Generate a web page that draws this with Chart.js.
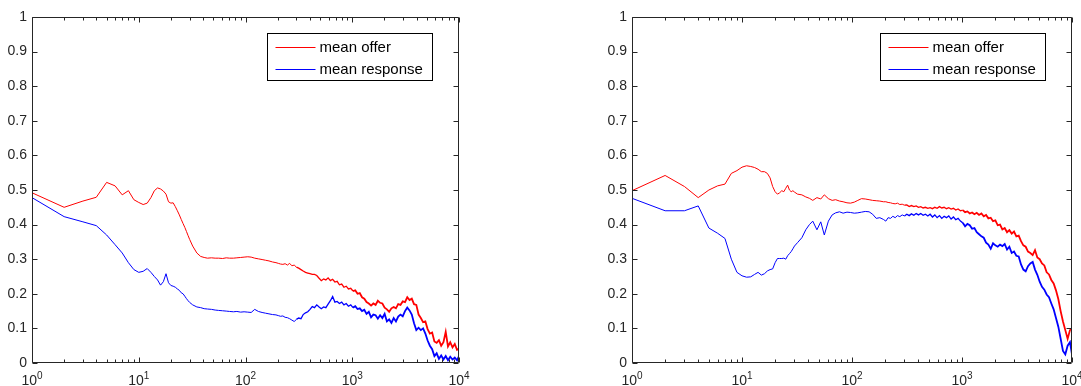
<!DOCTYPE html>
<html>
<head>
<meta charset="utf-8">
<script src="https://cdn.jsdelivr.net/npm/chart.js@4.4.1/dist/chart.umd.min.js"></script>
<style>
html,body{margin:0;padding:0;background:#fff;width:1081px;height:386px;overflow:hidden}
.panel{position:absolute;top:0;height:386px}
#p1{left:0;width:540px}
#p2{left:540px;width:541px}
canvas{display:block}
</style>
</head>
<body>
<div class="panel" id="p1"><canvas id="c1" width="540" height="386"></canvas></div>
<div class="panel" id="p2"><canvas id="c2" width="541" height="386"></canvas></div>
<script>
// ---- data ----
const seriesNames = ['mean offer', 'mean response'];

const generations = [
  1,2,3,4,5,6,7,8,9,10,11,12,13,14,15,16,17,18,19,20,21,22,23,24,25,26,27,28,29,30,
  32,35,38,41,44,48,52,56,61,66,71,77,83,90,97,105,113,122,132,143,154,166,179,193,
  203,213,224,235,247,259,272,286,300,315,
  331,347,365,383,402,422,443,465,489,513,
  539,566,594,624,655,688,722,758,796,836,
  878,921,968,1016,1067,1120,1176,1235,1297,1361,
  1429,1501,1576,1655,1737,1824,1915,2011,2112,2217,
  2328,2444,2567,2695,2830,2971,3120,3276,3440,3612,
  3792,3982,4181,4390,4610,4840,5082,5336,5603,5883,
  6178,6486,6811,7151,7509,7884,8279,8693,9127,9584,
  10000
];

const leftOffer = [
  .492,.450,.468,.479,.522,.512,.486,.498,.472,.464,.458,.462,.478,.498,.506,.503,.497,.488,.466,.462,
  .463,.452,.440,.428,.415,.403,.392,.380,.368,.357,
  .338,.318,.308,.305,.303,.304,.303,.303,.302,.304,.303,.303,.304,.305,.306,.307,.306,.303,.301,.299,.297,.295,.292,.290,
  .288,.286,.285,.287,.283,.288,.281,.283,.277,.274,
  .270,.266,.262,.260,.258,.256,.256,.253,.245,.238,
  .243,.240,.246,.238,.242,.234,.236,.226,.228,.219,
  .222,.214,.216,.208,.210,.200,.202,.190,.186,.176,
  .172,.166,.172,.168,.180,.174,.172,.160,.155,.148,
  .158,.162,.158,.170,.168,.178,.176,.190,.182,.186,
  .170,.168,.140,.130,.118,.120,.098,.085,.088,.062,
  .058,.066,.050,.060,.090,.048,.060,.045,.055,.038,
  .042
];

const leftResponse = [
  .478,.423,.408,.397,.370,.342,.318,.290,.270,.262,.265,.273,.262,.250,.240,.225,.235,.258,.232,.224,
  .222,.219,.214,.210,.203,.200,.193,.186,.180,.175,
  .168,.162,.160,.157,.156,.155,.153,.152,.151,.150,.149,.148,.149,.147,.148,.147,.146,.155,.149,.146,.144,.142,.140,.139,
  .137,.135,.136,.132,.131,.128,.124,.120,.126,.130,
  .128,.140,.145,.148,.155,.163,.160,.168,.162,.157,
  .162,.160,.170,.180,.192,.176,.178,.172,.176,.168,
  .172,.164,.168,.160,.164,.156,.158,.150,.154,.142,
  .148,.132,.140,.138,.128,.138,.130,.142,.120,.126,
  .116,.130,.120,.134,.140,.135,.150,.160,.152,.140,
  .115,.095,.102,.095,.100,.085,.065,.050,.040,.020,
  .028,.012,.022,.010,.020,.008,.018,.010,.016,.008,
  .020
];

const rightOffer = [
  .498,.542,.510,.478,.500,.512,.517,.548,.556,.566,.570,.568,.565,.560,.553,.553,.548,.535,.510,.495,
  .488,.492,.498,.495,.505,.514,.500,.495,.498,.494,
  .488,.486,.480,.476,.470,.478,.474,.486,.475,.470,.472,.468,.466,.463,.462,.465,.470,.475,.474,.472,.470,.469,.468,.466,
  .466,.464,.463,.461,.460,.462,.458,.459,.456,.457,
  .452,.455,.452,.454,.450,.452,.448,.450,.447,.449,
  .446,.450,.447,.452,.448,.450,.446,.449,.445,.447,
  .442,.445,.440,.442,.436,.438,.432,.435,.430,.434,
  .428,.432,.424,.428,.418,.420,.410,.412,.398,.400,
  .386,.390,.378,.384,.374,.380,.366,.368,.352,.340,
  .336,.322,.318,.312,.326,.305,.300,.288,.282,.262,
  .256,.240,.230,.210,.185,.150,.120,.095,.070,.095,
  .100
];

const rightResponse = [
  .476,.440,.440,.454,.390,.375,.360,.300,.262,.252,.248,.249,.256,.262,.254,.258,.266,.270,.272,.290,
  .302,.302,.302,.303,.300,.310,.316,.322,.330,.338,
  .348,.362,.385,.400,.410,.385,.408,.370,.410,.428,.434,.437,.433,.436,.435,.433,.434,.436,.438,.437,.430,.418,.420,.415,
  .410,.420,.418,.424,.420,.426,.423,.428,.425,.430,
  .426,.431,.427,.432,.428,.432,.427,.430,.425,.430,
  .422,.428,.420,.426,.418,.424,.420,.425,.416,.422,
  .414,.418,.410,.405,.395,.402,.398,.388,.390,.378,
  .372,.366,.362,.348,.342,.330,.346,.340,.336,.342,
  .338,.344,.328,.336,.318,.322,.310,.308,.285,.270,
  .265,.280,.288,.292,.270,.255,.235,.220,.212,.198,
  .190,.172,.155,.130,.105,.070,.035,.025,.050,.060,
  .025
];

const xTickValues = [1, 10, 100, 1000, 10000];
const xTickBase = '10';
const xTickExponents = ['0', '1', '2', '3', '4'];
const yTickValues = [0, 0.1, 0.2, 0.3, 0.4, 0.5, 0.6, 0.7, 0.8, 0.9, 1];
const yTickLabels = ['0', '0.1', '0.2', '0.3', '0.4', '0.5', '0.6', '0.7', '0.8', '0.9', '1'];

// ---- style ----
const seriesColors = ['#ff0000', '#0000ff'];
const AXIS = '#262626';
const TEXT = '#262626';
const FONT = '"Liberation Sans", Arial, Helvetica, sans-serif';
const NOISY_FROM = 300, DENSE_FROM = 1000;

const axesBoxPlugin = {
  id: 'axesBox',
  afterDatasetsDraw(chart) {
    const {ctx, chartArea: a} = chart;
    const xs = chart.scales.x, ys = chart.scales.y;
    const L = Math.round(a.left) + 0.5, R = Math.round(a.right) - 0.5;
    const T = Math.round(a.top) + 0.5, B = Math.round(a.bottom) - 0.5;
    ctx.save();
    ctx.strokeStyle = AXIS;
    ctx.lineWidth = 1;
    ctx.beginPath();
    ctx.rect(L, T, R - L, B - T);
    const vtick = (v, len) => {
      const p = Math.round(xs.getPixelForValue(v)) + 0.5;
      ctx.moveTo(p, B); ctx.lineTo(p, B - len);
      ctx.moveTo(p, T); ctx.lineTo(p, T + len);
    };
    xTickValues.forEach(v => vtick(v, 5));
    for (let d = 1; d < 10000; d *= 10) {
      for (let k = 2; k <= 9; k++) vtick(k * d, 3);
    }
    yTickValues.forEach(v => {
      const p = Math.round(ys.getPixelForValue(v)) + 0.5;
      ctx.moveTo(L, p); ctx.lineTo(L + 5, p);
      ctx.moveTo(R, p); ctx.lineTo(R - 5, p);
    });
    ctx.stroke();

    // x tick labels: "10" with raised exponent
    ctx.fillStyle = TEXT;
    ctx.textBaseline = 'alphabetic';
    ctx.textAlign = 'left';
    xTickValues.forEach((v, i) => {
      const p = xs.getPixelForValue(v);
      ctx.font = '14px ' + FONT;
      const bw = ctx.measureText(xTickBase).width;
      ctx.font = '10px ' + FONT;
      const ew = ctx.measureText(xTickExponents[i]).width;
      const start = p - (bw + ew) / 2;
      ctx.font = '14px ' + FONT;
      ctx.fillText(xTickBase, start, 385);
      ctx.font = '10px ' + FONT;
      ctx.fillText(xTickExponents[i], start + bw, 379);
    });
    ctx.restore();
  }
};

const boxLegendPlugin = {
  id: 'boxLegend',
  afterDraw(chart) {
    const {ctx, chartArea: a} = chart;
    const w = 165, h = 47;
    const left = Math.round(a.right - 27 - w) + 0.5;
    const top = Math.round(a.top + 16) + 0.5;
    ctx.save();
    ctx.fillStyle = '#ffffff';
    ctx.fillRect(left, top, w, h);
    ctx.strokeStyle = '#000000';
    ctx.lineWidth = 1;
    ctx.strokeRect(left, top, w, h);
    ctx.font = '15px ' + FONT;
    ctx.textBaseline = 'middle';
    ctx.textAlign = 'left';
    seriesNames.forEach((name, i) => {
      const yy = Math.round(top + 13 + i * 22) + 0.5;
      ctx.strokeStyle = seriesColors[i];
      ctx.beginPath();
      ctx.moveTo(left + 8, yy);
      ctx.lineTo(left + 48, yy);
      ctx.stroke();
      ctx.fillStyle = '#000000';
      ctx.fillText(name, left + 52, yy);
    });
    ctx.restore();
  }
};

const segmentWidth = c => {
  const x = c.p0.parsed.x;
  return x >= DENSE_FROM ? 1.8 : (x >= NOISY_FROM ? 1.3 : 1);
};

function makeChart(id, offer, response, padLeft, padRight) {
  const toPoints = arr => generations.map((g, i) => ({x: g, y: arr[i]}));
  return new Chart(document.getElementById(id), {
    type: 'line',
    data: {
      datasets: [
        {label: seriesNames[0], data: toPoints(offer), borderColor: seriesColors[0], borderWidth: 1, order: 1,
         segment: {borderWidth: segmentWidth}},
        {label: seriesNames[1], data: toPoints(response), borderColor: seriesColors[1], borderWidth: 1, order: 0,
         segment: {borderWidth: segmentWidth}}
      ]
    },
    options: {
      responsive: false,
      animation: false,
      devicePixelRatio: 1,
      events: [],
      elements: {point: {radius: 0}, line: {tension: 0, fill: false}},
      layout: {padding: {top: 17, left: padLeft, right: padRight, bottom: 0}},
      plugins: {legend: {display: false}, tooltip: {enabled: false}},
      scales: {
        x: {
          type: 'logarithmic', position: 'bottom', min: 1, max: 10000,
          grid: {display: false, drawTicks: false},
          border: {display: false},
          afterBuildTicks: s => { s.ticks = xTickValues.map(v => ({value: v})); },
          afterFit: s => { s.height = 23; s.paddingLeft = 0; s.paddingRight = 0; },
          ticks: {display: false, autoSkip: false, maxRotation: 0, minRotation: 0}
        },
        y: {
          type: 'linear', position: 'left', min: 0, max: 1,
          grid: {display: false, drawTicks: false},
          border: {display: false},
          afterBuildTicks: s => { s.ticks = yTickValues.map(v => ({value: v})); },
          afterFit: s => { s.width = 32; s.paddingTop = 0; s.paddingBottom = 0; },
          ticks: {
            autoSkip: false, padding: 5,
            color: TEXT, font: {family: FONT, size: 14},
            callback: (v, i) => yTickLabels[i]
          }
        }
      }
    },
    plugins: [axesBoxPlugin, boxLegendPlugin]
  });
}

makeChart('c1', leftOffer, leftResponse, 0, 81);
makeChart('c2', rightOffer, rightResponse, 60, 9);
</script>
</body>
</html>
